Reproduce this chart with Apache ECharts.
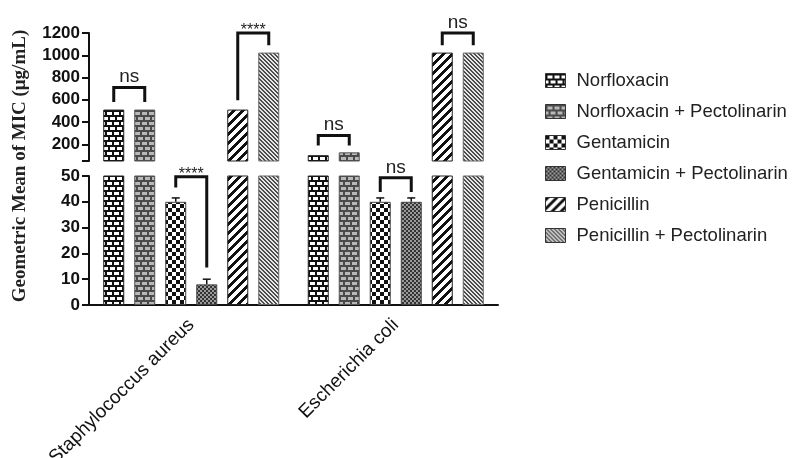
<!DOCTYPE html>
<html>
<head>
<meta charset="utf-8">
<script src="https://cdn.jsdelivr.net/npm/echarts@6/dist/echarts.min.js"></script>
<style>
  html, body { margin: 0; padding: 0; background: #fff; }
  #chart { width: 795px; height: 458px; }
</style>
</head>
<body>
<div id="chart"></div>
<script>
// ---- data ----
const categories = ['Staphylococcus aureus', 'Escherichia coli'];
const seriesNames = [
  'Norfloxacin',
  'Norfloxacin + Pectolinarin',
  'Gentamicin',
  'Gentamicin + Pectolinarin',
  'Penicillin',
  'Penicillin + Pectolinarin'
];
const norfloxacin = [512, 102];
const norfloxacinPect = [512, 128];
const gentamicin = [40, 40];
const gentamicinPect = [8, 40];
const penicillin = [512, 1024];
const penicillinPect = [1024, 1024];
// error (upper whisker) on the gentamicin bars
const gentamicinErr = [1.5, 1.5];
const gentamicinPectErr = [2, 1.5];
// broken value axis: upper segment 50-1200, lower segment 0-50
const upperTicks = [200, 400, 600, 800, 1000, 1200];
const lowerTicks = [0, 10, 20, 30, 40, 50];
// significance brackets: [category, left bar, right bar, top, left leg end, right leg end]
const upperBrackets = [
  [0, 0, 1, 710, 580, 580],
  [0, 4, 5, 1200, 596, 1090],
  [1, 0, 1, 280, 190, 190],
  [1, 4, 5, 1200, 1090, 1090]
];
const upperBracketLabels = ['ns', '****', 'ns', 'ns'];
const lowerBrackets = [
  [0, 2, 3, 49.7, 45.5, 14.5],
  [1, 2, 3, 49.3, 43.8, 43.8]
];
const lowerBracketLabels = ['****', 'ns'];

const allValues = [norfloxacin, norfloxacinPect, gentamicin, gentamicinPect, penicillin, penicillinPect];

// ---- fill patterns ----
function makeCanvas(w, h, painter) {
  const c = document.createElement('canvas');
  c.width = w; c.height = h;
  const ctx = c.getContext('2d');
  painter(ctx, w, h);
  return c;
}
function brick(mortar, face) {
  return makeCanvas(14, 10, (ctx) => {
    ctx.fillStyle = mortar; ctx.fillRect(0, 0, 14, 10);
    ctx.fillStyle = face;
    // row A
    ctx.fillRect(2, 2, 5, 3); ctx.fillRect(9, 2, 5, 3);
    // row B, shifted half a brick
    ctx.fillRect(0, 7, 3, 3); ctx.fillRect(5, 7, 5, 3); ctx.fillRect(12, 7, 2, 3);
  });
}
function checker(size, a, b) {
  return makeCanvas(size * 2, size * 2, (ctx) => {
    ctx.fillStyle = b; ctx.fillRect(0, 0, size * 2, size * 2);
    ctx.fillStyle = a;
    ctx.fillRect(0, 0, size, size); ctx.fillRect(size, size, size, size);
  });
}
function stripes(period, width, ink, paper, forward) {
  return makeCanvas(period, period, (ctx) => {
    const img = ctx.createImageData(period, period);
    const p = (s) => [parseInt(s.slice(1, 3), 16), parseInt(s.slice(3, 5), 16), parseInt(s.slice(5, 7), 16)];
    const ci = p(ink), cp = p(paper);
    for (let y = 0; y < period; y++) {
      for (let x = 0; x < period; x++) {
        const k = forward ? (x + y) % period : ((x - y) % period + period) % period;
        const col = k < width ? ci : cp;
        const o = (y * period + x) * 4;
        img.data[o] = col[0]; img.data[o + 1] = col[1]; img.data[o + 2] = col[2]; img.data[o + 3] = 255;
      }
    }
    ctx.putImageData(img, 0, 0);
  });
}
const fills = [
  { image: brick('#111111', '#ffffff'), repeat: 'repeat' },
  { image: brick('#4a4a4a', '#b8b8b8'), repeat: 'repeat' },
  { image: checker(4, '#111111', '#ffffff'), repeat: 'repeat' },
  { image: checker(2, '#333333', '#9a9a9a'), repeat: 'repeat' },
  { image: stripes(9, 4, '#111111', '#ffffff', true), repeat: 'repeat' },
  { image: stripes(4, 2, '#4d4d4d', '#e6e6e6', false), repeat: 'repeat' }
];
const borders = ['#222', '#555', '#444', '#444', '#222', '#666'];

// ---- layout constants ----
const BAR_W = 21;
const BAR_SPACE = 10;
const STEP = BAR_W + BAR_SPACE;
const INK = '#111';
const SANS = 'Arial, "Liberation Sans", sans-serif';

function barSeries(i, gridIdx) {
  return {
    type: 'bar',
    name: seriesNames[i],
    xAxisIndex: gridIdx,
    yAxisIndex: gridIdx,
    data: allValues[i],
    barWidth: BAR_W,
    barGap: (BAR_SPACE / BAR_W * 100).toFixed(2) + '%',
    clip: true,
    silent: true,
    itemStyle: { color: fills[i], borderColor: borders[i], borderWidth: 1 }
  };
}

function bracketRenderer(labels) {
  return function (params, api) {
    const cat = api.value(0);
    const a = api.value(1), b = api.value(2);
    const topPt = api.coord([cat, api.value(3)]);
    const yl = api.coord([cat, api.value(4)])[1];
    const yr = api.coord([cat, api.value(5)])[1];
    const xa = topPt[0] + (a - 2.5) * STEP;
    const xb = topPt[0] + (b - 2.5) * STEP;
    const label = labels[params.dataIndex];
    const stars = label.indexOf('*') >= 0;
    return {
      type: 'group',
      children: [
        {
          type: 'polyline',
          shape: { points: [[xa, yl], [xa, topPt[1]], [xb, topPt[1]], [xb, yr]] },
          style: { stroke: INK, lineWidth: 3, fill: null }
        },
        {
          type: 'text',
          x: (xa + xb) / 2,
          y: topPt[1] + (stars ? 6 : -1),
          style: {
            text: label,
            fill: '#222',
            font: (stars ? '16px ' : '19px ') + SANS,
            align: 'center',
            verticalAlign: 'bottom'
          }
        }
      ]
    };
  };
}

function errorRenderer(params, api) {
  const cat = api.value(0), idx = api.value(1);
  const base = api.coord([cat, api.value(2)]);
  const tip = api.coord([cat, api.value(2) + api.value(3)]);
  const x = base[0] + (idx - 2.5) * STEP;
  return {
    type: 'group',
    children: [
      { type: 'line', shape: { x1: x, y1: base[1], x2: x, y2: tip[1] }, style: { stroke: INK, lineWidth: 1.5 } },
      { type: 'line', shape: { x1: x - 4, y1: tip[1], x2: x + 4, y2: tip[1] }, style: { stroke: INK, lineWidth: 1.5 } }
    ]
  };
}

const errorData = [];
categories.forEach((c, k) => {
  errorData.push([k, 2, gentamicin[k], gentamicinErr[k]]);
  errorData.push([k, 3, gentamicinPect[k], gentamicinPectErr[k]]);
});

const axisLineStyle = { color: INK, width: 2 };
const yLabelStyle = {
  color: '#111', fontSize: 17, fontWeight: 'bold', fontFamily: SANS, margin: 9,
  formatter: (v) => String(v)
};

const chart = echarts.init(document.getElementById('chart'), null, { renderer: 'canvas' });
chart.setOption({
  animation: false,
  backgroundColor: '#fff',
  grid: [
    { left: 89, right: 297, top: 33, bottom: 297, containLabel: false, outerBoundsMode: 'none' },
    { left: 89, right: 297, top: 176, bottom: 153, containLabel: false, outerBoundsMode: 'none' }
  ],
  legend: {
    data: seriesNames,
    orient: 'vertical',
    left: 540,
    top: 66,
    itemWidth: 20,
    itemHeight: 14,
    itemGap: 12,
    icon: 'rect',
    selectedMode: false,
    itemStyle: { borderColor: '#333', borderWidth: 1 },
    textStyle: { fontSize: 18.5, fontFamily: SANS, color: '#222', padding: [0, 0, 0, 6] }
  },
  xAxis: [
    { type: 'category', gridIndex: 0, data: categories, show: false },
    {
      type: 'category', gridIndex: 1, data: categories,
      axisLine: { lineStyle: axisLineStyle },
      axisTick: { alignWithLabel: true, length: 6, lineStyle: axisLineStyle },
      axisLabel: { rotate: 45, fontSize: 19, fontFamily: SANS, color: '#111', margin: 17, interval: 0 },
      splitLine: { show: false }
    }
  ],
  yAxis: [
    {
      type: 'value', gridIndex: 0, min: 50, max: 1200,
      axisLine: { show: true, lineStyle: axisLineStyle },
      axisTick: { show: true, length: 7, lineStyle: axisLineStyle, customValues: [50].concat(upperTicks) },
      axisLabel: Object.assign({ customValues: upperTicks }, yLabelStyle),
      splitLine: { show: false }
    },
    {
      type: 'value', gridIndex: 1, min: 0, max: 50, interval: 10,
      axisLine: { show: true, lineStyle: axisLineStyle },
      axisTick: { show: true, length: 7, lineStyle: axisLineStyle, customValues: lowerTicks },
      axisLabel: Object.assign({ customValues: lowerTicks }, yLabelStyle),
      splitLine: { show: false }
    }
  ],
  graphic: [
    {
      type: 'text',
      x: 20, y: 166,
      rotation: Math.PI / 2,
      style: {
        text: 'Geometric Mean of MIC (\u03bcg/mL)',
        font: 'bold 19px "Times New Roman", "Liberation Serif", serif',
        fill: '#222',
        align: 'center',
        verticalAlign: 'middle'
      }
    }
  ],
  series: [
    ...seriesNames.map((n, i) => barSeries(i, 0)),
    ...seriesNames.map((n, i) => barSeries(i, 1)),
    {
      type: 'custom', name: 'upper brackets', xAxisIndex: 0, yAxisIndex: 0,
      clip: false, silent: true, z: 5,
      renderItem: bracketRenderer(upperBracketLabels), data: upperBrackets
    },
    {
      type: 'custom', name: 'lower brackets', xAxisIndex: 1, yAxisIndex: 1,
      clip: false, silent: true, z: 5,
      renderItem: bracketRenderer(lowerBracketLabels), data: lowerBrackets
    },
    {
      type: 'custom', name: 'error bars', xAxisIndex: 1, yAxisIndex: 1,
      clip: false, silent: true, z: 4,
      renderItem: errorRenderer, data: errorData
    }
  ]
});
</script>
</body>
</html>
